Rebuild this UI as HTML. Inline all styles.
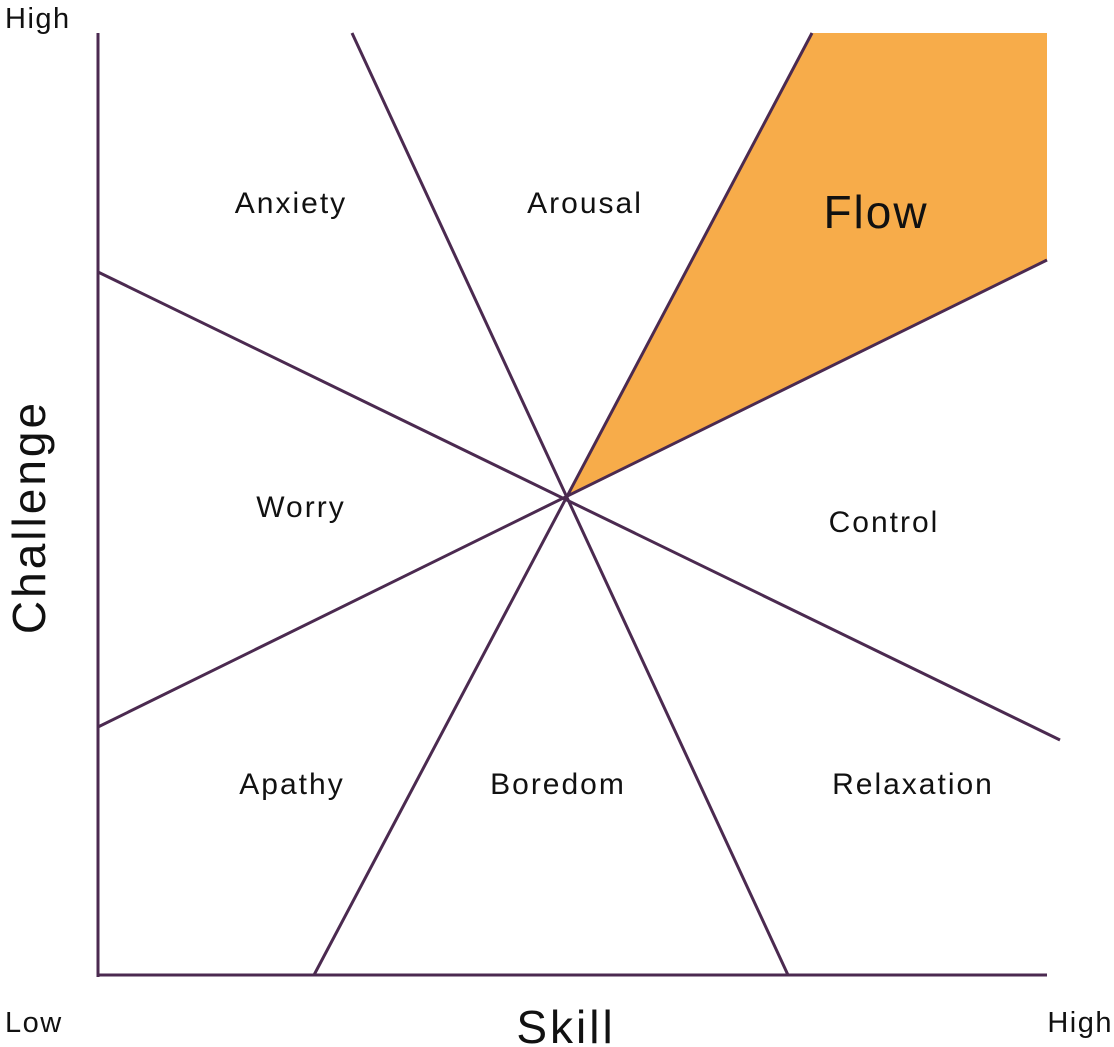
<!DOCTYPE html>
<html><head><style>
html,body{margin:0;padding:0;background:#fff;}
svg{display:block;}
text{font-family:"Liberation Sans","DejaVu Sans",sans-serif;fill:#111;}
</style></head><body>
<svg width="1114" height="1047" viewBox="0 0 1114 1047" xmlns="http://www.w3.org/2000/svg">
<polygon points="566,497 812,33 1047,33 1047,260" fill="#f7ac4a"/>
<g stroke="#4b2a50" stroke-width="3" fill="none">
<line x1="98" y1="33" x2="98" y2="977"/>
<line x1="97" y1="975" x2="1047" y2="975"/>
<line x1="352" y1="33" x2="788" y2="975"/>
<line x1="98" y1="272" x2="1060" y2="740"/>
<line x1="98" y1="727" x2="1047" y2="260"/>
<line x1="314" y1="975" x2="812" y2="33"/>
</g>
<g font-size="30" text-anchor="middle" letter-spacing="2">
<text x="291" y="213">Anxiety</text>
<text x="585" y="213">Arousal</text>
<text x="301" y="517">Worry</text>
<text x="884" y="532">Control</text>
<text x="292" y="794">Apathy</text>
<text x="558" y="794">Boredom</text>
<text x="913" y="794">Relaxation</text>
</g>
<text x="876" y="228" font-size="46" letter-spacing="2" text-anchor="middle">Flow</text>
<text x="5" y="28" font-size="29" letter-spacing="1.5">High</text>
<text x="5" y="1032" font-size="29" letter-spacing="1.5">Low</text>
<text x="1113" y="1032" font-size="29" letter-spacing="1.5" text-anchor="end">High</text>
<text x="566" y="1043" font-size="46" letter-spacing="3" text-anchor="middle">Skill</text>
<text transform="translate(45,517) rotate(-90)" font-size="46" letter-spacing="3" text-anchor="middle">Challenge</text>
</svg>
</body></html>
